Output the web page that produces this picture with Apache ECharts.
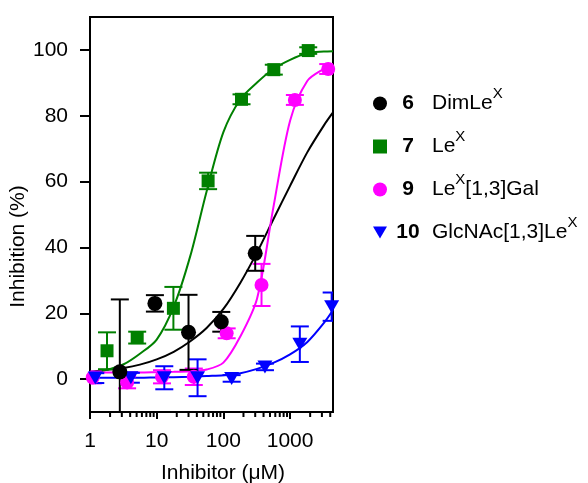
<!DOCTYPE html>
<html>
<head>
<meta charset="utf-8">
<script src="https://cdn.jsdelivr.net/npm/echarts@6/dist/echarts.min.js"></script>
<style>
  html, body { margin: 0; padding: 0; background: #fff; }
  #chart { width: 588px; height: 483px; }
</style>
</head>
<body>
<div id="chart"></div>
<script>
// measured points: x = inhibitor (uM), y = inhibition (%), err = +/- bar
var dimX = [2.8, 9.4, 30, 93, 300];
var dimY = [2.2, 23, 14.2, 17.4, 38.2];
var dimErr = [22, 2.5, 11.4, 3, 5.3];

var lexX = [1.8, 5.1, 17.8, 59, 187, 570, 1870];
var lexY = [8.6, 12.6, 21.5, 60.2, 85, 94, 99.8];
var lexErr = [5.6, 1.8, 6.5, 2.5, 1.5, 1.5, 1];

var galX = [1.1, 3.6, 12, 36, 112, 373, 1180, 3730];
var galY = [0.5, -1, 0.7, 0.7, 13.9, 28.6, 84.8, 94.2];
var galErr = [1.8, 1.8, 2, 2.5, 1.5, 6.4, 1.5, 1.5];

var glcX = [1.2, 4.1, 13, 41, 133, 420, 1400, 4200];
var glcY = [0.3, 0.4, 0.4, 0.4, 0.2, 3.7, 10.6, 22];
var glcErr = [1.5, 1.5, 3.5, 5.6, 1, 1, 5.4, 4.3];

// fitted curves at these concentrations
var fitX = [1, 1.8, 3.2, 5.6, 10, 18, 32, 56, 100, 180, 320, 560, 1000, 1800, 3200, 4400];
var dimFitY = [2.2, 2.8, 3.4, 4.4, 6, 8.3, 11.5, 15.5, 21.3, 29.3, 38.5, 48.5, 58.7, 68.8, 77, 81];
var lexFitY = [1.5, 2.8, 4.5, 7.7, 12, 22, 37.5, 57, 75, 85, 90.1, 94.2, 97, 99, 99.5, 99.6];
var galFitY = [2, 2, 2, 2, 2.1, 2.2, 2.4, 2.9, 5, 13, 24.5, 52, 78.5, 90.5, 94.2, 95.2];
var glcFitY = [0.4, 0.4, 0.4, 0.4, 0.5, 0.55, 0.7, 0.95, 1.2, 1.8, 3.1, 4.9, 7.5, 11.2, 17, 21];

// axis ticks
var yTicks = [0, 20, 40, 60, 80, 100];
var xMinorTicks = [2, 3, 4, 5, 6, 7, 8, 9, 20, 30, 40, 50, 60, 70, 80, 90,
  200, 300, 400, 500, 600, 700, 800, 900, 2000, 3000, 4000];

var FONT = '"Liberation Sans", Arial, sans-serif';
var BLACK = '#000000', GREEN = '#008000', MAGENTA = '#ff00ff', BLUE = '#0000ff';

function zip(a, b, c) {
  return a.map(function (v, i) { return c ? [v, b[i], c[i]] : [v, b[i]]; });
}

function errorBar(params, api) {
  var x = api.value(0), y = api.value(1), e = api.value(2);
  var hi = api.coord([x, y + e]);
  var lo = api.coord([x, y - e]);
  var half = 9;
  var style = { stroke: api.visual('color'), lineWidth: 2 };
  return {
    type: 'group',
    children: [
      { type: 'line', shape: { x1: hi[0], y1: hi[1], x2: lo[0], y2: lo[1] }, style: style },
      { type: 'line', shape: { x1: hi[0] - half, y1: hi[1], x2: hi[0] + half, y2: hi[1] }, style: style },
      { type: 'line', shape: { x1: lo[0] - half, y1: lo[1], x2: lo[0] + half, y2: lo[1] }, style: style }
    ]
  };
}

function minorTick(params, api) {
  var p = api.coord([api.value(0), -10]);
  return { type: 'line', shape: { x1: p[0], y1: p[1], x2: p[0], y2: p[1] + 5 }, style: { stroke: BLACK, lineWidth: 2 } };
}

function fitLine(name, color, xs, ys) {
  return {
    name: name, type: 'line', data: zip(xs, ys), smooth: 0.3,
    showSymbol: false, symbol: 'none', z: 2, silent: true,
    lineStyle: { color: color, width: 2 }
  };
}

function bars(color, xs, ys, es) {
  return {
    type: 'custom', renderItem: errorBar, data: zip(xs, ys, es), z: 3, silent: true, clip: true,
    encode: { x: 0, y: 1 }, itemStyle: { color: color }
  };
}

function points(name, color, symbol, size, xs, ys, rotate) {
  return {
    name: name, type: 'scatter', data: zip(xs, ys), symbol: symbol, symbolSize: size,
    symbolRotate: rotate || 0, z: 4, itemStyle: { color: color, opacity: 1 }
  };
}

var legendText = {
  'dim': '{num|6}{sp| }{nm|DimLe}{sup|X}',
  'lex': '{num|7}{sp| }{nm|Le}{sup|X}',
  'gal': '{num|9}{sp| }{nm|Le}{sup|X}{nm|[1,3]Gal}',
  'glc': '{num|10}{sp| }{nm|GlcNAc[1,3]Le}{sup|X}'
};

var chart = echarts.init(document.getElementById('chart'));
var option = {
  animation: false,
  backgroundColor: '#ffffff',
  textStyle: { fontFamily: FONT },
  grid: {
    left: 90, right: 255, top: 17, bottom: 71,
    show: true, borderColor: BLACK, borderWidth: 2,
    containLabel: false, outerBoundsMode: 'none'
  },
  legend: {
    orient: 'vertical', left: 368, top: 81,
    itemWidth: 14, itemHeight: 14, itemGap: 15,
    data: [
      { name: 'dim', icon: 'circle' },
      { name: 'lex', icon: 'rect' },
      { name: 'gal', icon: 'circle' },
      { name: 'glc', icon: 'path://M0,0 L14,0 L7,12 Z' }
    ],
    formatter: function (name) { return legendText[name]; },
    textStyle: {
      color: BLACK, fontFamily: FONT, fontSize: 21,
      rich: {
        num: { fontFamily: FONT, fontSize: 21, fontWeight: 'bold', color: BLACK, width: 32, align: 'right' },
        sp: { width: 8 },
        nm: { fontFamily: FONT, fontSize: 21, color: BLACK },
        sup: { fontFamily: FONT, fontSize: 15, color: BLACK, padding: [0, 0, 20, 0] }
      }
    }
  },
  xAxis: {
    type: 'log', logBase: 10, min: 1, max: 4400,
    name: 'Inhibitor (\u03bcM)', nameLocation: 'middle', nameGap: 51,
    nameTextStyle: { color: BLACK, fontSize: 21, fontFamily: FONT, padding: [0, 0, 0, 23] },
    axisLine: { show: true, onZero: false, lineStyle: { color: BLACK, width: 2 } },
    axisTick: { show: true, length: 7, lineStyle: { color: BLACK, width: 2 } },
    axisLabel: {
      color: BLACK, fontSize: 21, fontFamily: FONT, margin: 19, showMaxLabel: false,
      formatter: function (v) { return String(Math.round(v)); }
    },
    splitLine: { show: false }
  },
  yAxis: {
    type: 'value', min: -10, max: 110,
    name: 'Inhibition (%)', nameLocation: 'middle', nameGap: 47,
    nameTextStyle: { color: BLACK, fontSize: 21, fontFamily: FONT, padding: [0, 64, 0, 0] },
    axisLine: { show: true, onZero: false, lineStyle: { color: BLACK, width: 2 } },
    axisTick: { show: true, length: 10, customValues: yTicks, lineStyle: { color: BLACK, width: 2 } },
    axisLabel: { color: BLACK, fontSize: 21, fontFamily: FONT, margin: 22, customValues: yTicks },
    splitLine: { show: false }
  },
  series: [
    { type: 'custom', renderItem: minorTick, data: xMinorTicks.map(function (v) { return [v, 0]; }),
      encode: { x: 0, y: 1 }, clip: false, silent: true, z: 5 },
    fitLine('dimFit', BLACK, fitX, dimFitY),
    fitLine('lexFit', GREEN, fitX, lexFitY),
    fitLine('galFit', MAGENTA, fitX, galFitY),
    fitLine('glcFit', BLUE, fitX, glcFitY),
    bars(GREEN, lexX, lexY, lexErr),
    points('lex', GREEN, 'rect', 13, lexX, lexY),
    bars(MAGENTA, galX, galY, galErr),
    points('gal', MAGENTA, 'circle', 14, galX, galY),
    bars(BLUE, glcX, glcY, glcErr),
    points('glc', BLUE, 'triangle', [15, 13], glcX, glcY, 180),
    bars(BLACK, dimX, dimY, dimErr),
    points('dim', BLACK, 'circle', 15, dimX, dimY)
  ]
};
chart.setOption(option);
</script>
</body>
</html>
